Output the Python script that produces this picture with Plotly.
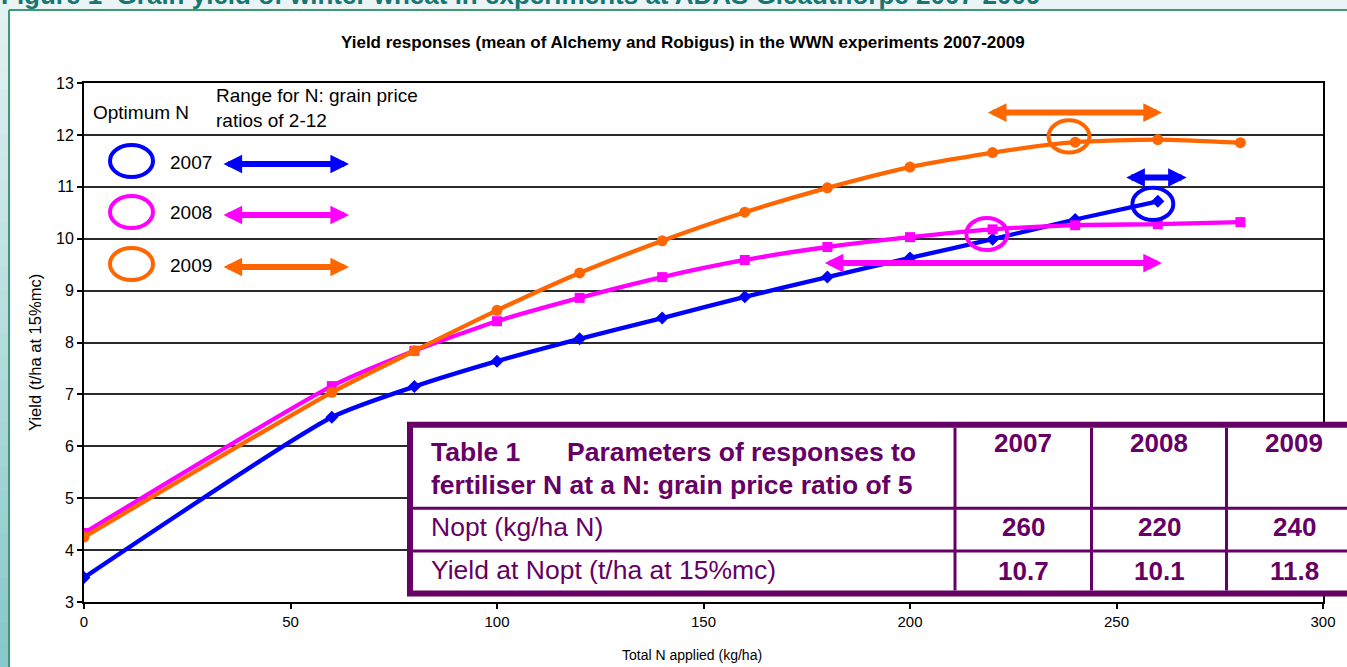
import plotly.graph_objects as go

# ---------------- data ----------------
n_rates = [0, 60, 80, 100, 120, 140, 160, 180, 200, 220, 240, 260, 280]
yield_2007 = [3.47, 6.56, 7.15, 7.64, 8.07, 8.47, 8.88, 9.26, 9.63, 9.99, 10.37, 10.72]
yield_2008 = [4.33, 7.16, 7.84, 8.41, 8.86, 9.26, 9.59, 9.84, 10.03, 10.18, 10.26, 10.28, 10.32]
yield_2009 = [4.25, 7.04, 7.84, 8.62, 9.34, 9.96, 10.51, 10.98, 11.38, 11.66, 11.86, 11.91, 11.85]

years = ["2007", "2008", "2009"]
series_colors = ["#0000FF", "#FF00FF", "#FF6600"]

# optimum N circles (centre as drawn on chart)
opt_circle_n = [258.8, 218.6, 238.5]
opt_circle_yield = [10.67, 10.09, 11.97]
# range of N for grain price ratios 2-12
range_low = [252, 179, 218.5]
range_high = [267, 261, 261]
range_arrow_y = [11.18, 9.53, 12.43]

# table values
table_nopt = ["260", "220", "240"]
table_yield = ["10.7", "10.1", "11.8"]

x_ticks = [0, 50, 100, 150, 200, 250, 300]
y_ticks = [3, 4, 5, 6, 7, 8, 9, 10, 11, 12, 13]

# ---------------- layout helpers ----------------
W, H = 1347, 667
L, R, T, B = 84, 1323, 83, 602
FONT = "Arial, Liberation Sans, sans-serif"
PURPLE = "#660066"


def fx(px):
    return (px - L) / (R - L)


def fy(py):
    return (B - py) / (B - T)


fig = go.Figure()

all_series = [yield_2007, yield_2008, yield_2009]
symbols = ["diamond", "square", "circle"]
msizes = [10, 10, 11]
for yr, ys, col, sym, ms in zip(years, all_series, series_colors, symbols, msizes):
    fig.add_trace(go.Scatter(
        x=n_rates[:len(ys)], y=ys, name=yr, mode="lines+markers",
        line=dict(color=col, width=4.3, shape="spline", smoothing=0.6),
        marker=dict(symbol=sym, size=ms, color=col),
        showlegend=False, hoverinfo="x+y+name"))

shapes = []
annotations = []

# ---- page frame ----
n_slices = 30
c_top = (0xE4, 0xF1, 0xF3)
c_bot = (0x88, 0xC7, 0xCB)
for i in range(n_slices):
    t = i / (n_slices - 1)
    c = tuple(int(round(a + (b - a) * t)) for a, b in zip(c_top, c_bot))
    y0p = 0 + (H) * i / n_slices
    y1p = 0 + (H) * (i + 1) / n_slices
    shapes.append(dict(type="rect", xref="paper", yref="paper",
                       x0=fx(-2), x1=fx(9), y0=fy(y1p + 1), y1=fy(y0p),
                       fillcolor="rgb(%d,%d,%d)" % c, line=dict(width=0), layer="below"))
shapes.append(dict(type="rect", xref="paper", yref="paper",
                   x0=fx(9), x1=fx(W + 5), y0=fy(10), y1=fy(-5),
                   fillcolor="#EAF4F6", line=dict(width=0), layer="below"))
shapes.append(dict(type="line", xref="paper", yref="paper",
                   x0=fx(9), x1=fx(W + 5), y0=fy(10), y1=fy(10),
                   line=dict(color="#3E9B70", width=2)))
shapes.append(dict(type="line", xref="paper", yref="paper",
                   x0=fx(9), x1=fx(9), y0=fy(10), y1=fy(H + 5),
                   line=dict(color="#3E9B70", width=2)))

annotations.append(dict(
    text="Figure 1  Grain yield of winter wheat in experiments at ADAS Gleadthorpe 2007-2009",
    xref="paper", yref="paper", x=fx(-1), y=fy(12), xanchor="left", yanchor="bottom",
    showarrow=False, font=dict(family=FONT, size=26, color="#17766F", weight="bold")))

# ---- chart title and axis titles ----
annotations.append(dict(
    text="<b>Yield responses (mean of Alchemy and Robigus) in the WWN experiments 2007-2009</b>",
    xref="paper", yref="paper", x=fx(683), y=fy(43), xanchor="center", yanchor="middle",
    showarrow=False, font=dict(family=FONT, size=17, color="black")))
annotations.append(dict(
    text="Yield (t/ha at 15%mc)", textangle=-90,
    xref="paper", yref="paper", x=fx(35), y=fy(352), xanchor="center", yanchor="middle",
    showarrow=False, font=dict(family=FONT, size=16.5, color="black")))
annotations.append(dict(
    text="Total N applied (kg/ha)",
    xref="paper", yref="paper", x=fx(692), y=fy(655), xanchor="center", yanchor="middle",
    showarrow=False, font=dict(family=FONT, size=14, color="black")))

# ---- optimum circles and range arrows on the chart ----
for cn, cy, col in zip(opt_circle_n, opt_circle_yield, series_colors):
    shapes.append(dict(type="circle", xref="x", yref="y",
                       x0=cn - 4.95, x1=cn + 4.95, y0=cy - 0.31, y1=cy + 0.31,
                       line=dict(color=col, width=4), layer="above"))
for lo, hi, yy, col in zip(range_low, range_high, range_arrow_y, series_colors):
    annotations.append(dict(
        text="", x=hi, y=yy, ax=lo, ay=yy, xref="x", yref="y", axref="x", ayref="y",
        showarrow=True, arrowhead=2, startarrowhead=2, arrowside="end+start",
        arrowwidth=6, arrowsize=0.62, startarrowsize=0.62, arrowcolor=col, standoff=0))

# ---- key in the top-left corner ----
annotations.append(dict(text="Optimum N", xref="paper", yref="paper", x=fx(91), y=fy(113),
                        xanchor="left", yanchor="middle", showarrow=False,
                        font=dict(family=FONT, size=19, color="black")))
annotations.append(dict(text="Range for N: grain price<br>ratios of 2-12", xref="paper", yref="paper",
                        x=fx(214), y=fy(108), xanchor="left", yanchor="middle", showarrow=False,
                        align="left", font=dict(family=FONT, size=19, color="black")))
key_y = [161, 212, 264]
for yr, col, ky in zip(years, series_colors, key_y):
    shapes.append(dict(type="circle", xref="paper", yref="paper",
                       x0=fx(110), x1=fx(153), y0=fy(ky + 16), y1=fy(ky - 16),
                       line=dict(color=col, width=4), layer="above"))
    annotations.append(dict(text=yr, xref="paper", yref="paper", x=fx(168), y=fy(ky + 1),
                            xanchor="left", yanchor="middle", showarrow=False,
                            font=dict(family=FONT, size=19, color="black")))
    annotations.append(dict(
        text="", xref="paper", yref="paper", x=fx(349), y=fy(ky + 3), ax=-(349 - 222), ay=0,
        showarrow=True, arrowhead=2, startarrowhead=2, arrowside="end+start",
        arrowwidth=6, arrowsize=0.62, startarrowsize=0.62, arrowcolor=col, standoff=0))

# ---- Table 1 ----
tx0, tx1, ty0, ty1 = 410, 1385, 424.7, 593.5
shapes.append(dict(type="rect", xref="paper", yref="paper",
                   x0=fx(tx0), x1=fx(tx1), y0=fy(ty1), y1=fy(ty0),
                   fillcolor="white", line=dict(color=PURPLE, width=6), layer="above"))
for ry in [508.3, 551]:
    shapes.append(dict(type="line", xref="paper", yref="paper",
                       x0=fx(tx0 + 3), x1=fx(tx1), y0=fy(ry), y1=fy(ry),
                       line=dict(color=PURPLE, width=3), layer="above"))
col_lines = [955, 1091.5, 1226.5]
for cx in col_lines:
    shapes.append(dict(type="line", xref="paper", yref="paper",
                       x0=fx(cx), x1=fx(cx), y0=fy(ty1 - 3), y1=fy(ty0 + 3),
                       line=dict(color=PURPLE, width=3), layer="above"))

tfont_b = dict(family=FONT, size=26.5, color=PURPLE, weight="bold")
tfont_n = dict(family=FONT, size=26.5, color=PURPLE)
tfont_v = dict(family=FONT, size=26, color=PURPLE, weight="bold")
annotations.append(dict(text="Table 1", xref="paper", yref="paper", x=fx(429), y=fy(452),
                        xanchor="left", yanchor="middle", showarrow=False, font=tfont_b))
annotations.append(dict(text="Parameters of responses to", xref="paper", yref="paper", x=fx(565),
                        y=fy(452), xanchor="left", yanchor="middle", showarrow=False, font=tfont_b))
annotations.append(dict(text="fertiliser N at a N: grain price ratio of 5", xref="paper", yref="paper",
                        x=fx(429), y=fy(485), xanchor="left", yanchor="middle", showarrow=False,
                        font=tfont_b))
annotations.append(dict(text="Nopt (kg/ha N)", xref="paper", yref="paper", x=fx(429), y=fy(527),
                        xanchor="left", yanchor="middle", showarrow=False, font=tfont_n))
annotations.append(dict(text="Yield at Nopt (t/ha at 15%mc)", xref="paper", yref="paper", x=fx(429),
                        y=fy(570), xanchor="left", yanchor="middle", showarrow=False, font=tfont_n))
col_centres = [1023, 1159, 1294]
for yr, nv, yv, cc in zip(years, table_nopt, table_yield, col_centres):
    annotations.append(dict(text=yr, xref="paper", yref="paper", x=fx(cc), y=fy(443),
                            xanchor="center", yanchor="middle", showarrow=False, font=tfont_v))
    annotations.append(dict(text=nv, xref="paper", yref="paper", x=fx(cc), y=fy(527),
                            xanchor="center", yanchor="middle", showarrow=False, font=tfont_v))
    annotations.append(dict(text=yv, xref="paper", yref="paper", x=fx(cc), y=fy(571),
                            xanchor="center", yanchor="middle", showarrow=False, font=tfont_v))

fig.update_layout(
    width=W, height=H,
    margin=dict(l=L, r=W - R, t=T, b=H - B, pad=0),
    paper_bgcolor="white", plot_bgcolor="rgba(0,0,0,0)",
    font=dict(family=FONT, color="black"),
    shapes=shapes, annotations=annotations,
    xaxis=dict(range=[0, 300], tickvals=x_ticks, ticktext=[str(v) for v in x_ticks],
               showgrid=False, zeroline=False, showline=True, linecolor="black", linewidth=2,
               mirror=True, ticks="outside", ticklen=5, tickwidth=1.5, tickcolor="black",
               tickfont=dict(size=15), fixedrange=True),
    yaxis=dict(range=[3, 13], tickvals=y_ticks, ticktext=[str(v) for v in y_ticks],
               showgrid=True, gridcolor="#2A2A2A", gridwidth=1.7, zeroline=False,
               showline=True, linecolor="black", linewidth=2, mirror=True,
               ticks="outside", ticklen=5, tickwidth=1.5, tickcolor="black",
               tickfont=dict(size=16), fixedrange=True),
)

fig.write_html("out.html", config={"displayModeBar": False},
               post_script="document.body.style.margin='0px';document.body.style.overflow='hidden';")
